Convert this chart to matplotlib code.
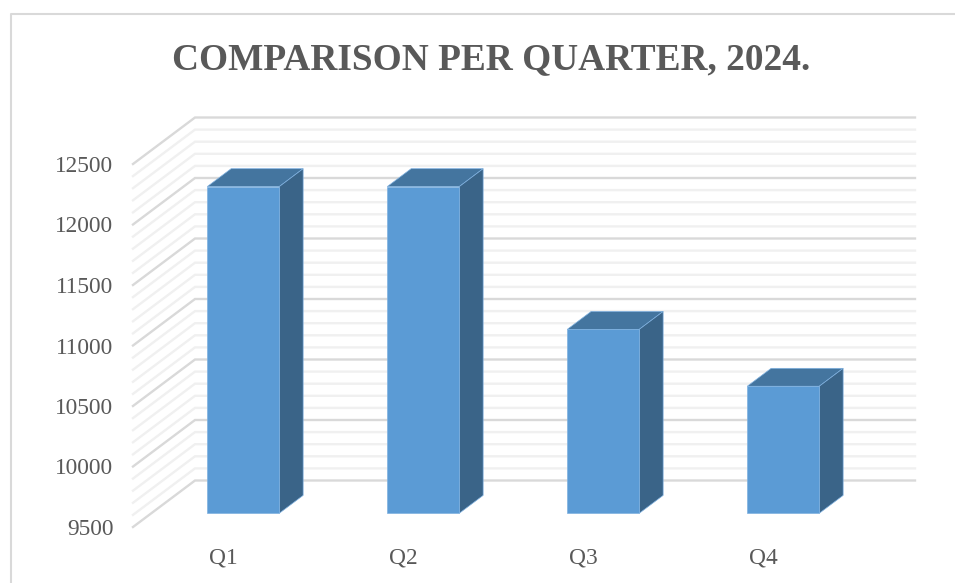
#quarterly comparison, fake 3d columns on a 2d axes
import matplotlib
matplotlib.use('Agg')
import matplotlib.pyplot as plt
from matplotlib.lines import Line2D

plt.rcParams['font.family']=['Liberation Serif','DejaVu Serif']

QUARTERS=['Q1','Q2','Q3','Q4']
VALUES=[12200,12200,11020,10550]
YTICKS=[9500,10000,10500,11000,11500,12000,12500]
TITLE="COMPARISON PER QUARTER, 2024."

TEXT='#595959'
FRONT='#5b9bd5'
TOP='#44759f'
SIDE='#3a6488'
EDGE='#7fb1e0'
W,H=955,583

fig=plt.figure(figsize=(W/100,H/100),dpi=100)
ax=fig.add_axes([133/W,1-527/H,720/W,363/H])
ax.set_xlim(-0.5,3.5)
ax.set_ylim(9500,12500)

#depth of the box, one unit of d moves this far in data units
DX=62/180
DY=46.5/363*3000

def proj(x,y,d):
    return x+d*DX,y+d*DY

def poly(pts,color):
    xs,ys=zip(*[proj(*p) for p in pts])
    ax.fill(xs,ys,facecolor=color,edgecolor=EDGE,linewidth=0.5,clip_on=False,zorder=5)

#walls
for v in range(9500,12501,100):
    major=(v-9500)%500==0
    c='#d9d9d9' if major else '#f0f0f0'
    x0,y0=proj(-0.5,v,0)
    x1,y1=proj(-0.5,v,1)
    x2,y2=proj(3.5,v,1)
    ax.plot([x0,x1,x2],[y0,y1,y2],color=c,lw=1.7,clip_on=False,zorder=2 if major else 1,
            solid_joinstyle='miter')

#columns
BAR=0.4
SHIFT=0.011
D0,D1=0.295,0.68
for i,v in enumerate(VALUES):
    l,r=i+SHIFT-BAR/2,i+SHIFT+BAR/2
    poly([(l,v,D0),(r,v,D0),(r,v,D1),(l,v,D1)],TOP)
    poly([(r,9500,D0),(r,v,D0),(r,v,D1),(r,9500,D1)],SIDE)
    poly([(l,9500,D0),(r,9500,D0),(r,v,D0),(l,v,D0)],FRONT)

for s in ax.spines.values():
    s.set_visible(False)
ax.patch.set_visible(False)
ax.set_xticks(range(len(QUARTERS)),QUARTERS)
ax.set_yticks(YTICKS)
ax.tick_params(axis='both',length=0,labelsize=16.8,labelcolor=TEXT)
ax.tick_params(axis='y',pad=14)
ax.tick_params(axis='x',pad=15)

fig.text(491.5/W,1-60/H,TITLE,ha='center',va='center',fontsize=26.9,fontweight='bold',color=TEXT)

#chart frame, no right or bottom side in the picture
fig.add_artist(Line2D([11/W,11/W,1],[0,1-14/H,1-14/H],color='#d9d9d9',lw=1.5))

fig.savefig('out.png',dpi=100)
